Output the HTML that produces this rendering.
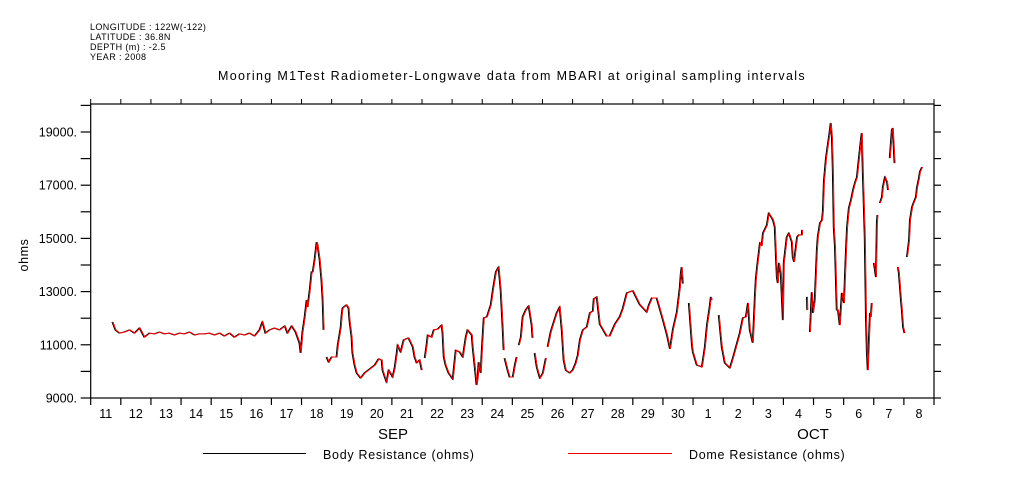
<!DOCTYPE html>
<html><head><meta charset="utf-8"><style>
body{margin:0;background:#fff;}
svg{display:block;font-family:"Liberation Sans",sans-serif;}
</style></head><body>
<svg id="chart" width="1009" height="504" viewBox="0 0 1009 504">
<g font-size="9" fill="#000" letter-spacing="0.4">
<text x="90" y="30">LONGITUDE : 122W(-122)</text>
<text x="90" y="40">LATITUDE : 36.8N</text>
<text x="90" y="50">DEPTH (m) : -2.5</text>
<text x="90" y="60">YEAR : 2008</text>
</g>
<text x="512" y="80" text-anchor="middle" font-size="12.5" letter-spacing="1.35">Mooring M1Test Radiometer-Longwave data from MBARI at original sampling intervals</text>
<text transform="translate(28,255) rotate(-90)" text-anchor="middle" font-size="12.5" letter-spacing="0.6">ohms</text>
<g id="axes"></g>
<g id="series"></g>
<text x="393" y="439" text-anchor="middle" font-size="15">SEP</text>
<text x="813" y="439" text-anchor="middle" font-size="15">OCT</text>
<g>
<line x1="203" y1="453.5" x2="306" y2="453.5" stroke="#000" stroke-width="1"/>
<text x="323" y="459" font-size="12.5" letter-spacing="0.7">Body Resistance (ohms)</text>
<line x1="568" y1="453.5" x2="672" y2="453.5" stroke="#e00" stroke-width="1"/>
<text x="689" y="459" font-size="12.5" letter-spacing="0.7">Dome Resistance (ohms)</text>
</g>
</svg>
<script>
const dayLabels=["11","12","13","14","15","16","17","18","19","20","21","22","23","24","25","26","27","28","29","30","1","2","3","4","5","6","7","8"];
const yTickValues=[9000,10000,11000,12000,13000,14000,15000,16000,17000,18000,19000,20000];
const yLabelValues=[9000,11000,13000,15000,17000,19000];
const days=[0.73,0.83,0.96,1.13,1.30,1.46,1.63,1.79,1.96,2.13,2.29,2.46,2.62,2.79,2.96,3.12,3.29,3.46,3.62,3.79,3.95,4.12,4.29,4.45,4.62,4.78,4.95,5.12,5.28,5.45,5.61,5.71,5.81,5.95,6.11,6.28,6.45,6.54,6.68,6.81,6.94,6.98,
7.04,7.11,7.18,7.21,7.28,7.34,7.38,7.44,7.51,7.54,7.61,7.67,7.71,7.74,7.78,
7.84,7.91,8.01,8.17,8.21,8.31,8.34,8.37,8.50,8.57,8.60,8.67,8.70,8.77,8.84,8.97,9.10,9.27,9.44,9.57,9.67,9.70,9.77,9.83,9.90,10.00,10.03,10.10,10.17,10.20,10.30,10.40,10.56,10.70,10.76,10.83,10.93,11.00,11.05,
11.10,11.16,11.20,11.33,11.40,11.53,11.66,11.69,11.73,11.79,11.89,12.03,12.06,12.13,12.26,12.36,12.46,12.52,12.66,12.69,12.76,12.82,12.86,12.89,12.96,12.99,13.06,13.16,13.29,13.36,13.46,13.55,13.62,13.69,13.72,13.73,
13.75,13.85,13.92,14.02,14.09,14.15,14.18,14.22,14.29,14.35,14.45,14.55,14.65,14.68,14.71,14.75,14.82,14.92,15.02,15.12,15.15,15.18,15.28,15.35,15.48,15.58,15.65,15.71,15.78,15.91,16.01,16.11,16.18,16.25,16.35,16.48,16.58,16.68,16.71,16.81,16.91,17.14,17.24,17.41,17.57,17.67,17.81,18.01,18.24,18.47,18.54,18.64,18.80,19.00,19.14,19.24,19.34,19.47,19.57,19.60,19.63,
19.67,19.77,19.87,19.97,20.00,20.13,20.30,20.40,20.47,20.56,20.60,20.63,20.73,20.86,20.96,21.06,21.23,21.33,21.56,21.66,21.76,21.83,21.89,21.99,22.03,22.06,22.09,22.13,22.23,22.29,22.33,22.46,22.52,22.62,22.66,22.72,22.76,22.79,22.82,22.86,22.92,22.99,23.02,23.12,23.19,23.29,23.32,23.36,23.46,23.52,23.62,23.63,23.65,23.68,23.72,23.79,23.80,
23.82,23.89,23.95,23.99,24.05,24.12,24.15,24.22,24.29,24.32,24.35,24.42,24.49,24.52,24.58,24.62,24.65,24.68,24.72,24.78,24.82,24.88,24.95,24.98,25.02,25.08,25.12,25.18,25.25,25.32,25.38,25.45,25.48,25.58,25.61,25.65,25.71,25.75,25.78,25.81,25.88,25.91,25.94,
25.98,26.01,26.08,26.11,26.13,26.15,26.21,26.28,26.31,26.38,26.45,26.48,26.51,26.54,26.61,26.64,26.70,26.78,26.81,26.84,26.91,26.94,26.98,27.03,27.08,27.11,27.18,27.21,27.28,27.34,27.41,27.44,27.51,27.54,27.61];
const ohms=[11860,11560,11440,11480,11560,11440,11630,11290,11440,11410,11480,11410,11440,11370,11440,11410,11480,11370,11410,11410,11440,11370,11440,11330,11440,11290,11410,11370,11440,11330,11560,11860,11440,11560,11630,11560,11710,11440,11710,11480,11070,10690,
11480,12010,12680,12420,13060,13740,13740,14190,14860,14750,14190,13440,12680,11560,null,
10540,10350,10540,10540,10990,11670,12120,12380,12500,12380,11930,11290,10690,10240,9940,9750,9940,10090,10240,10470,10430,10050,9790,9600,10050,9860,9790,10130,10690,10990,10730,11180,11260,10920,10540,10320,10430,10050,null,
10500,10990,11370,11290,11560,11590,11740,11440,10540,10240,9940,9710,10050,10800,10730,10540,11290,11560,11370,10920,10160,9490,9790,10350,9940,10690,12010,12050,12500,13060,13740,13920,13060,11560,10800,null,
10500,10050,9790,9790,10240,10540,null,10990,11290,12050,12310,12460,11740,11260,null,10690,10160,9750,9940,10500,null,10920,11480,11740,12200,12420,11560,10430,10050,9940,10050,10320,10610,11180,11560,11670,12200,12270,12720,12800,11780,11330,11330,11780,12050,12350,12950,13030,12510,12230,12500,12760,12760,11970,11370,10850,11590,12230,13170,13660,13920,13300,null,
12570,10990,10730,10240,10170,10920,11740,12420,12800,12680,null,12120,10920,10320,10130,10500,11440,12010,12050,12570,11560,11070,12010,12800,13440,13890,14830,14750,15200,15500,15950,15770,15690,15430,14300,13550,13320,14080,13700,11930,14080,15050,15200,14860,14300,14120,15050,15130,15130,15320,null,14080,null,
12800,12310,null,11480,12980,12200,12680,14560,15050,15580,15690,16070,17120,18020,18590,18810,19340,18770,17500,15430,14680,12310,12310,11740,12950,12800,12570,14450,15430,16140,16440,16820,17080,17310,17650,18700,18960,17310,15050,12050,10730,10050,12200,12050,12570,null,
14080,13550,15580,15880,null,16330,16560,16930,17310,17120,16820,null,18020,19070,19150,17830,null,13920,13700,12680,12310,11670,11440,null,14300,14940,15690,16180,16370,16560,16890,17270,17500,17680,18810];
const X0=90.7,X1=934,Y0=398,Y1=104,NDAYS=28;
const xs=d=>X0+d*(X1-X0)/NDAYS;
const ys=v=>Y0-(v-9000)*(398-132)/10000;
const NS="http://www.w3.org/2000/svg";
const axes=document.getElementById('axes');
function mk(tag,attrs,parent){const e=document.createElementNS(NS,tag);for(const k in attrs)e.setAttribute(k,attrs[k]);parent.appendChild(e);return e;}
const frame=mk('rect',{x:X0,y:Y1,width:X1-X0,height:Y0-Y1,fill:'none',stroke:'#000','stroke-width':1.2},axes);


for(let i=0;i<=NDAYS;i++){
  const x=xs(i);
  const t=mk('line',{x1:x,y1:Y0,x2:x,y2:Y0+7,stroke:'#000','stroke-width':1.2},axes);
  
  
  const t2=mk('line',{x1:x,y1:Y1,x2:x,y2:Y1-5,stroke:'#000','stroke-width':1},axes);
  
  
}
dayLabels.forEach((lab,i)=>{
  const t=mk('text',{x:xs(i+0.5),y:418,'text-anchor':'middle','font-size':12.5},axes);
  t.textContent=lab;
  
  
});
yTickValues.forEach(v=>{
  const y=ys(v); if(y<Y1-1)return;
  const a=mk('line',{x1:X0-10,y1:y,x2:X0,y2:y,stroke:'#000','stroke-width':1.2},axes);
  
  
  const b=mk('line',{x1:X1,y1:y,x2:X1+7,y2:y,stroke:'#000','stroke-width':1.2},axes);
  
  
});
yLabelValues.forEach(v=>{
  const t=mk('text',{x:77,y:ys(v)+4.5,'text-anchor':'end','font-size':12.5},axes);
  t.textContent=v+'.';
  
  
});
function buildPath(dx){
  let d='',pen=false;
  for(let i=0;i<days.length;i++){
    const v=ohms[i];
    if(v===null){pen=false;continue;}
    d+=(pen?'L':'M')+(xs(days[i])+dx).toFixed(1)+' '+ys(v).toFixed(1);
    pen=true;
  }
  return d;
}
const ser=document.getElementById('series');
const body=mk('path',{d:buildPath(-0.7),fill:'none',stroke:'#000','stroke-width':1},ser);


const dome=mk('path',{d:buildPath(0.3),fill:'none',stroke:'#f00','stroke-width':1},ser);


</script>
</body></html>
